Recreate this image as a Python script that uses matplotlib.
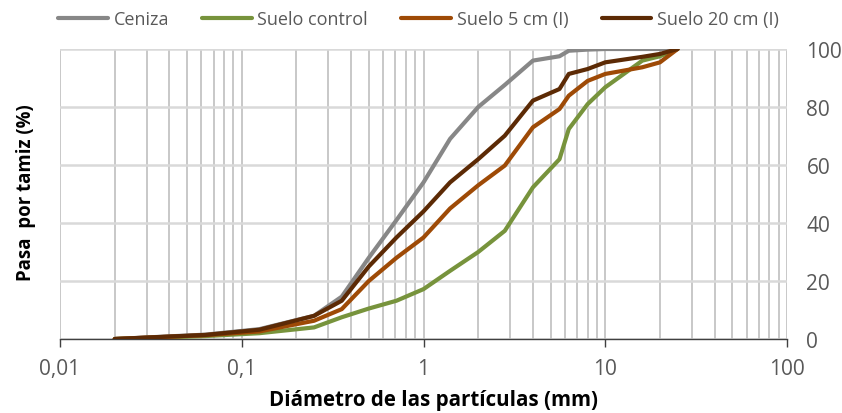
import numpy as np
import matplotlib.pyplot as plt
from matplotlib.ticker import LogLocator, NullFormatter

plt.rcParams['font.family'] = ['Open Sans', 'DejaVu Sans']

# tamices (mm)
tamiz = [0.02, 0.063, 0.125, 0.25, 0.355, 0.5, 0.71, 1, 1.4, 2, 2.8, 4, 5.6, 6.3, 8, 10, 16, 20, 25]

ceniza = [0, 1.5, 3.4, 8.0, 14.6, 28, 41, 54, 69, 80, 87.6, 96, 97.5, 99.4, 99.8, 100, 100, 100, 100]
suelo_control = [0, 1.0, 2.0, 4.0, 7.5, 10.5, 13.2, 17.2, 23.5, 30, 37.3, 52.3, 62, 72.4, 81, 86.8, 96, 97.5, 100]
suelo_5 = [0, 1.3, 2.6, 6.3, 10.3, 20, 28, 35, 45, 53, 59.8, 73, 79.3, 83.9, 89, 91.4, 93.7, 95.4, 100]
suelo_20 = [0, 1.4, 3.2, 8.0, 13.2, 25, 35, 44, 54, 62, 70.1, 82.2, 86.2, 91.4, 93.1, 95.4, 97.3, 98.3, 100]

series = [
    ('Ceniza', ceniza, '#878787'),
    ('Suelo control', suelo_control, '#77933C'),
    ('Suelo 5 cm (I)', suelo_5, '#9E4A06'),
    ('Suelo 20 cm (I)', suelo_20, '#5C2A05'),
]

x_ticks = [0.01, 0.1, 1, 10, 100]
x_labels = ['0,01', '0,1', '1', '10', '100']
y_ticks = [0, 20, 40, 60, 80, 100]

fig = plt.figure(figsize=(8.42, 4.14), dpi=100)
ax = fig.add_axes([60/842, 1-340/414, 727/842, 290/414])

for nombre, valores, color in series:
    ax.plot(tamiz, valores, color=color, lw=3.0, label=nombre, solid_capstyle='round', zorder=3)

ax.set_xscale('log')
ax.set_xlim(0.01, 100)
ax.set_ylim(0, 100)
ax.set_xticks(x_ticks)
ax.set_xticklabels(x_labels)
ax.xaxis.set_minor_locator(LogLocator(base=10, subs=np.arange(2, 10)))
ax.xaxis.set_minor_formatter(NullFormatter())
ax.set_yticks(y_ticks)

# rejilla
ax.grid(True, which='both', axis='x', color='#BFBFBF', lw=1.2, zorder=1)
ax.grid(True, which='major', axis='y', color='#D9D9D9', lw=1.8, zorder=1)

ax.yaxis.tick_right()
ax.tick_params(axis='y', length=0, pad=14, labelsize=15, labelcolor='#595959')
ax.tick_params(axis='x', which='major', length=6, width=1, color='#404040', direction='out',
               labelsize=15, labelcolor='#595959', pad=8)
ax.tick_params(axis='x', which='minor', length=0)
for lado in ['top', 'right', 'left']:
    ax.spines[lado].set_visible(False)
ax.spines['bottom'].set_color('#404040')
ax.spines['bottom'].set_linewidth(1)

fig.text(433/842, 1-401/414, 'Diámetro de las partículas (mm)', fontsize=14.8, fontweight='bold',
         ha='center', va='center')
fig.text(26/842, 1-193/414, 'Pasa  por tamiz (%)', rotation=90, fontsize=13.4, fontweight='bold',
         ha='center', va='center')

fig.legend(loc='upper center', bbox_to_anchor=(0.497, 1.012), ncol=4, frameon=False,
           fontsize=13, handlelength=2.75, handletextpad=0.3, columnspacing=1.85,
           labelcolor='#595959')

fig.savefig('out.png', dpi=100)
